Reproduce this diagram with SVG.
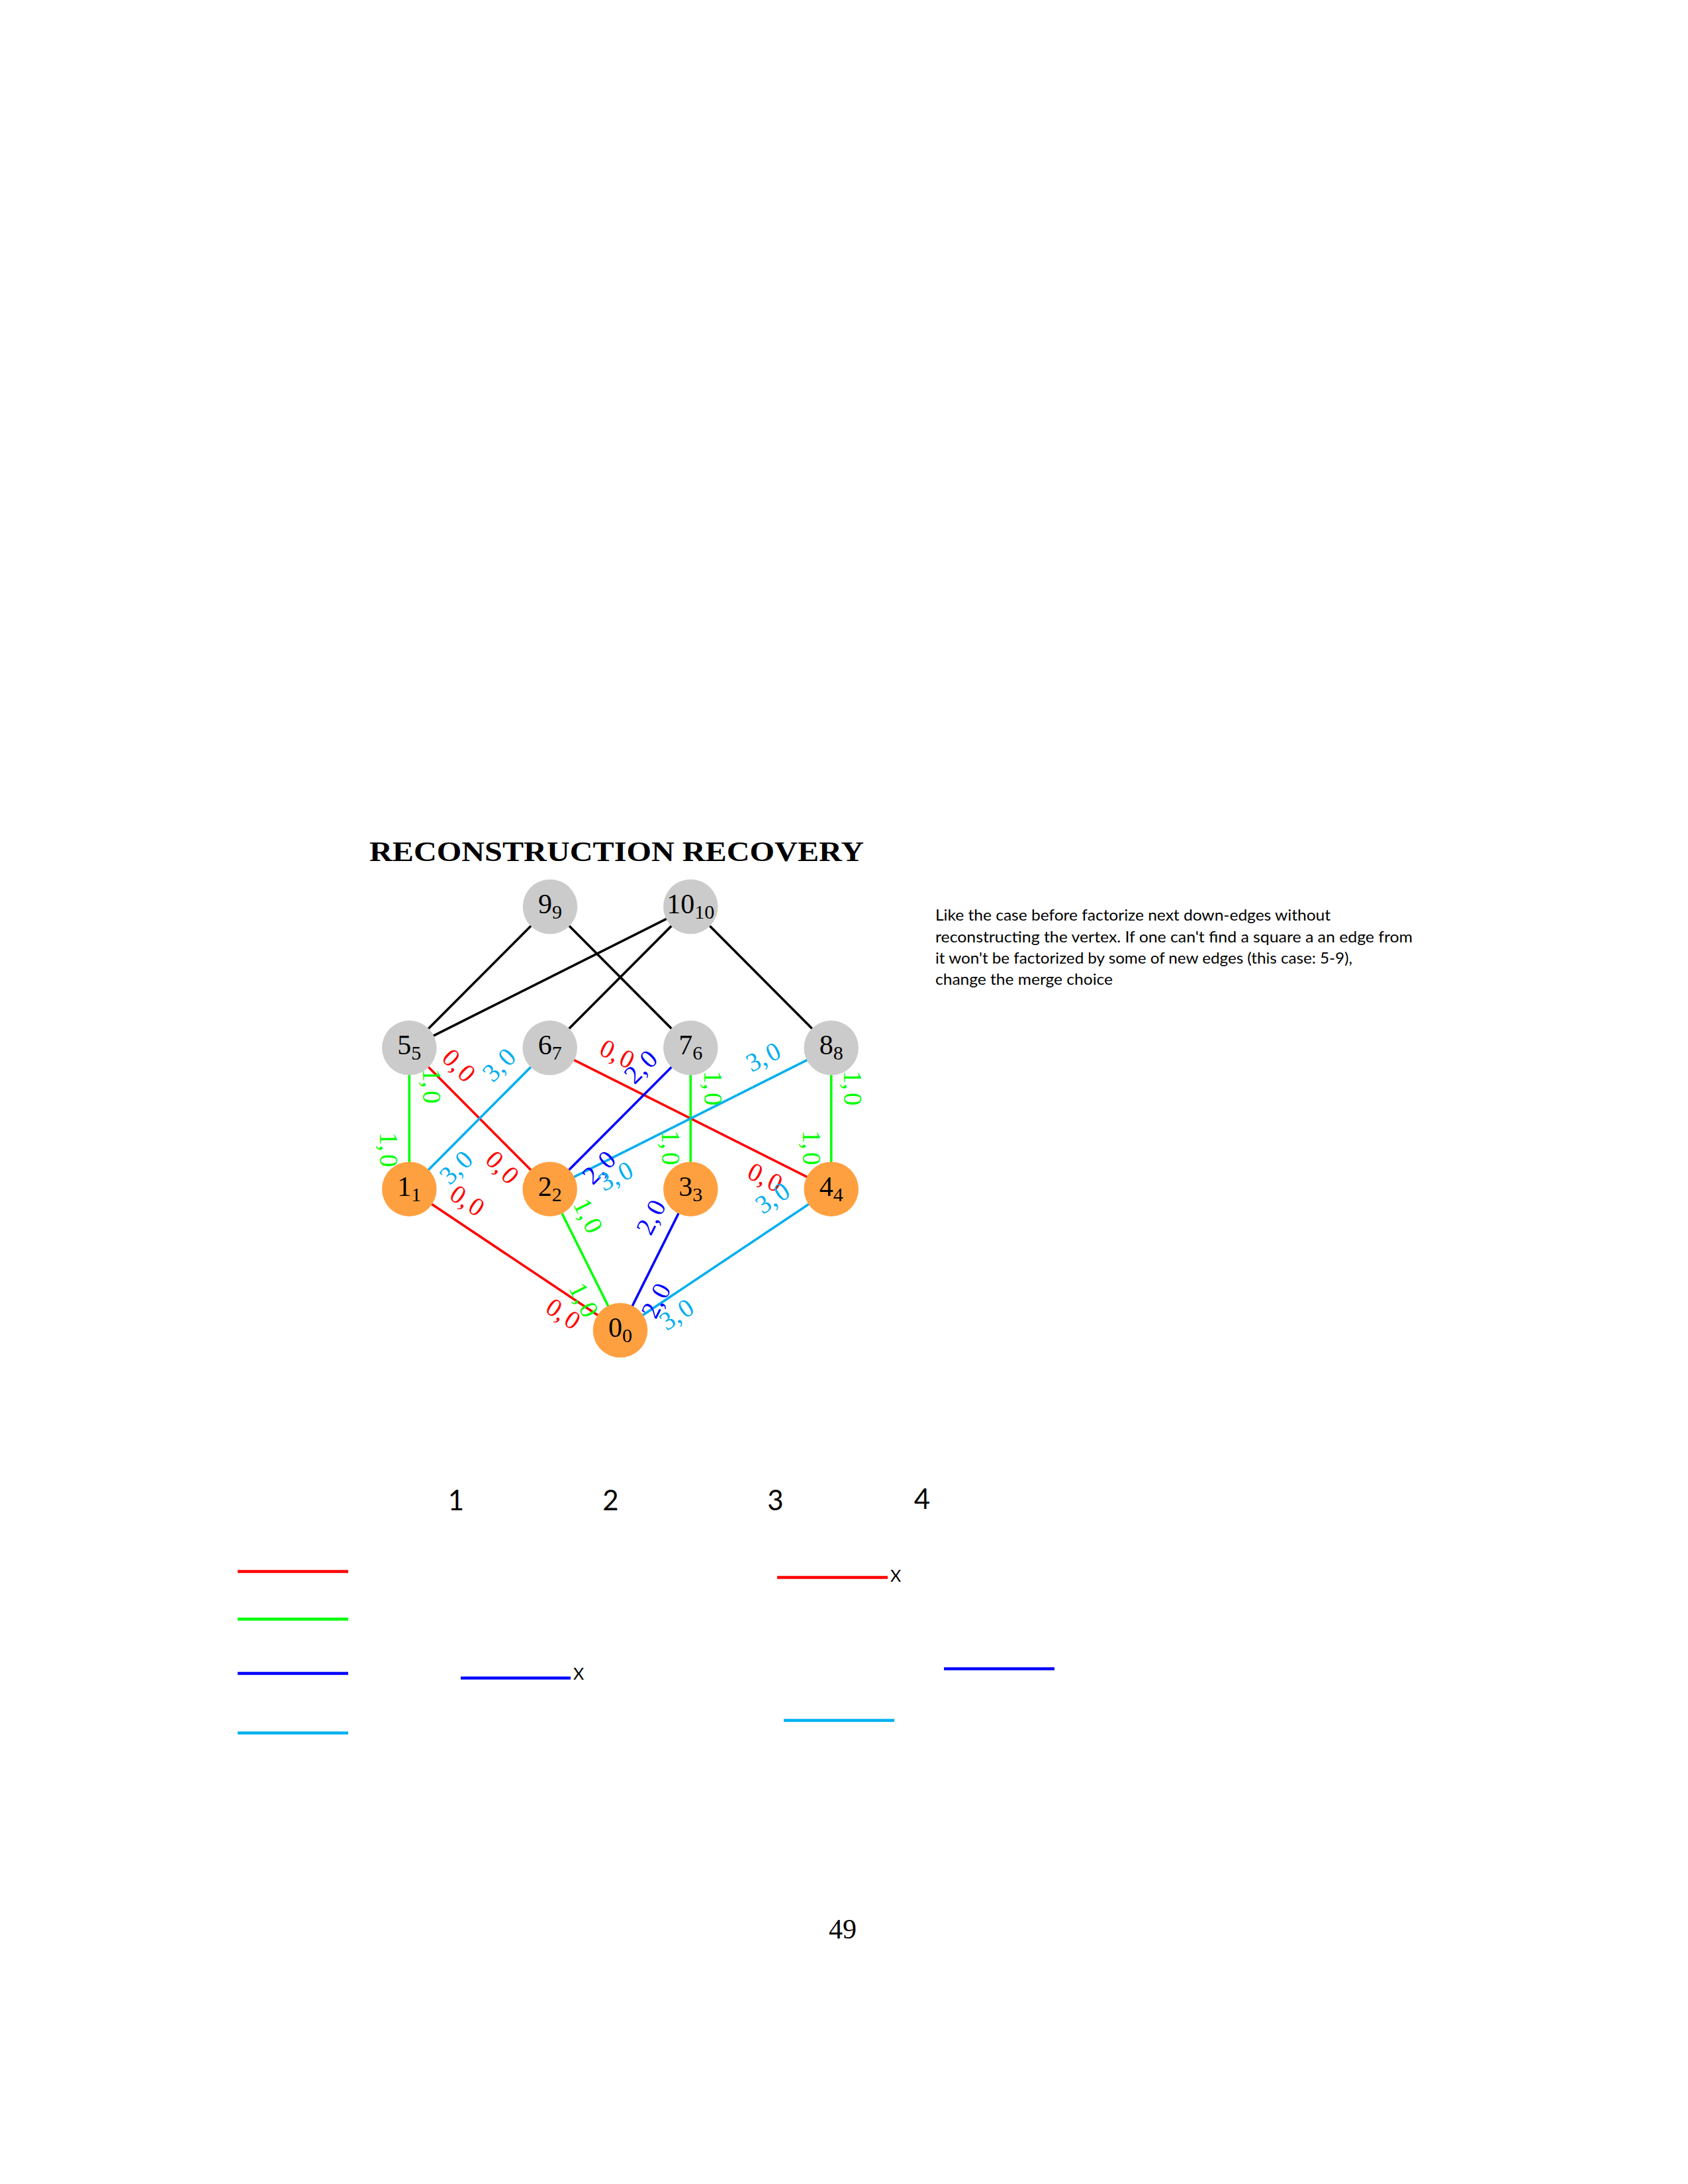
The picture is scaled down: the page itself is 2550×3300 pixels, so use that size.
<svg xmlns="http://www.w3.org/2000/svg" width="2550" height="3300" viewBox="0 0 2550 3300">
<style>
.bg{fill:#ffffff}
.title{font-family:"Liberation Serif",serif;font-weight:bold;font-size:42px;fill:#000}
.nl{font-family:"Liberation Serif",serif;font-size:42px;fill:#000}
.sub{font-size:30px}
.gray{fill:#cbcbcb}
.orange{fill:#ffa040}
.e{stroke-width:3.6;fill:none}
.k{stroke:#000}
.r{stroke:#ff0000}
.g{stroke:#00ff00}
.b{stroke:#0000ff}
.c{stroke:#00aeef}
.el{font-family:"Liberation Serif",serif;font-size:39px;text-anchor:middle}
.tr{fill:#ff0000}
.tg{fill:#00ff00}
.tb{fill:#0000ff}
.tc{fill:#00aeef}
.para{font-family:Lato,"Liberation Sans",sans-serif;font-size:23px;fill:#000}
.num{font-family:Lato,"Liberation Sans",sans-serif;font-size:42px;fill:#000;text-anchor:middle}
.xm{font-family:Lato,"Liberation Sans",sans-serif;font-size:25px;fill:#000}
.lg{stroke-width:4.7}
</style>
<rect class="bg" x="0" y="0" width="2550" height="3300"/>
<text class="title" x="558" y="1301" textLength="747" lengthAdjust="spacingAndGlyphs">RECONSTRUCTION RECOVERY</text>

<g id="connectors">
  <line class="e k" x1="831" y1="1370" x2="618.3" y2="1583.3"/>
  <line class="e k" x1="831" y1="1370" x2="1043.3" y2="1583.3"/>
  <line class="e k" x1="1043.3" y1="1370" x2="618.3" y2="1583.3"/>
  <line class="e k" x1="1043.3" y1="1370" x2="830.7" y2="1583.3"/>
  <line class="e k" x1="1043.3" y1="1370" x2="1255.7" y2="1583.3"/>
  <line class="e g" x1="618.3" y1="1583.3" x2="618.3" y2="1796.7"/>
  <line class="e r" x1="618.3" y1="1583.3" x2="830.7" y2="1796.7"/>
  <line class="e c" x1="830.7" y1="1583.3" x2="618.3" y2="1796.7"/>
  <line class="e r" x1="830.7" y1="1583.3" x2="1255.7" y2="1796.7"/>
  <line class="e b" x1="1043.3" y1="1583.3" x2="830.7" y2="1796.7"/>
  <line class="e g" x1="1043.3" y1="1583.3" x2="1043.3" y2="1796.7"/>
  <line class="e c" x1="1255.7" y1="1583.3" x2="830.7" y2="1796.7"/>
  <line class="e g" x1="1255.7" y1="1583.3" x2="1255.7" y2="1796.7"/>
  <line class="e r" x1="618.3" y1="1796.7" x2="937" y2="2010"/>
  <line class="e g" x1="830.7" y1="1796.7" x2="937" y2="2010"/>
  <line class="e b" x1="1043.3" y1="1796.7" x2="937" y2="2010"/>
  <line class="e c" x1="1255.7" y1="1796.7" x2="937" y2="2010"/>
</g>

<g id="node9"><circle class="gray" cx="831" cy="1370" r="41.3"/><text class="nl" x="831" y="1380" text-anchor="middle">9<tspan class="sub" dy="8">9</tspan></text></g>
<g id="node10"><circle class="gray" cx="1043.3" cy="1370" r="41.3"/><text class="nl" x="1043.3" y="1380" text-anchor="middle">10<tspan class="sub" dy="8">10</tspan></text></g>
<g id="node5"><circle class="gray" cx="618.3" cy="1583.3" r="41.3"/><text class="nl" x="618.3" y="1593.3" text-anchor="middle">5<tspan class="sub" dy="8">5</tspan></text></g>
<g id="node6"><circle class="gray" cx="830.7" cy="1583.3" r="41.3"/><text class="nl" x="830.7" y="1593.3" text-anchor="middle">6<tspan class="sub" dy="8">7</tspan></text></g>
<g id="node7"><circle class="gray" cx="1043.3" cy="1583.3" r="41.3"/><text class="nl" x="1043.3" y="1593.3" text-anchor="middle">7<tspan class="sub" dy="8">6</tspan></text></g>
<g id="node8"><circle class="gray" cx="1255.7" cy="1583.3" r="41.3"/><text class="nl" x="1255.7" y="1593.3" text-anchor="middle">8<tspan class="sub" dy="8">8</tspan></text></g>
<g id="node1"><circle class="orange" cx="618.3" cy="1796.7" r="41.3"/><text class="nl" x="618.3" y="1806.7" text-anchor="middle">1<tspan class="sub" dy="8">1</tspan></text></g>
<g id="node2"><circle class="orange" cx="830.7" cy="1796.7" r="41.3"/><text class="nl" x="830.7" y="1806.7" text-anchor="middle">2<tspan class="sub" dy="8">2</tspan></text></g>
<g id="node3"><circle class="orange" cx="1043.3" cy="1796.7" r="41.3"/><text class="nl" x="1043.3" y="1806.7" text-anchor="middle">3<tspan class="sub" dy="8">3</tspan></text></g>
<g id="node4"><circle class="orange" cx="1255.7" cy="1796.7" r="41.3"/><text class="nl" x="1255.7" y="1806.7" text-anchor="middle">4<tspan class="sub" dy="8">4</tspan></text></g>
<g id="node0"><circle class="orange" cx="937" cy="2010" r="41.3"/><text class="nl" x="937" y="2020" text-anchor="middle">0<tspan class="sub" dy="8">0</tspan></text></g>

<g id="edge-labels">
  <text class="el tg" transform="translate(652,1641) rotate(90)" y="13">1,<tspan dx="4">0</tspan></text>
  <text class="el tg" transform="translate(586.7,1737) rotate(90)" y="13">1,<tspan dx="4">0</tspan></text>
  <text class="el tr" transform="translate(693.3,1610) rotate(45)" y="13">0,<tspan dx="4">0</tspan></text>
  <text class="el tr" transform="translate(759,1764) rotate(45)" y="13">0,<tspan dx="4">0</tspan></text>
  <text class="el tc" transform="translate(754,1609) rotate(-45)" y="13">3,<tspan dx="4">0</tspan></text>
  <text class="el tc" transform="translate(689,1764) rotate(-45)" y="13">3,<tspan dx="4">0</tspan></text>
  <text class="el tr" transform="translate(932.5,1592.5) rotate(26.66)" y="13">0,<tspan dx="4">0</tspan></text>
  <text class="el tr" transform="translate(1156,1779) rotate(26.66)" y="13">0,<tspan dx="4">0</tspan></text>
  <text class="el tb" transform="translate(968,1612) rotate(-45)" y="13">2,<tspan dx="4">0</tspan></text>
  <text class="el tb" transform="translate(905,1764) rotate(-45)" y="13">2,<tspan dx="4">0</tspan></text>
  <text class="el tg" transform="translate(1077,1644) rotate(90)" y="13">1,<tspan dx="4">0</tspan></text>
  <text class="el tg" transform="translate(1012.5,1734) rotate(90)" y="13">1,<tspan dx="4">0</tspan></text>
  <text class="el tc" transform="translate(1153,1597) rotate(-26.66)" y="13">3,<tspan dx="4">0</tspan></text>
  <text class="el tc" transform="translate(930,1777) rotate(-26.66)" y="13">3,<tspan dx="4">0</tspan></text>
  <text class="el tg" transform="translate(1288,1644) rotate(90)" y="13">1,<tspan dx="4">0</tspan></text>
  <text class="el tg" transform="translate(1226,1734) rotate(90)" y="13">1,<tspan dx="4">0</tspan></text>
  <text class="el tr" transform="translate(706,1814) rotate(33.8)" y="13">0,<tspan dx="4">0</tspan></text>
  <text class="el tr" transform="translate(851,1985) rotate(33.8)" y="13">0,<tspan dx="4">0</tspan></text>
  <text class="el tg" transform="translate(888.5,1837) rotate(63.5)" y="13">1,<tspan dx="4">0</tspan></text>
  <text class="el tg" transform="translate(882,1964) rotate(63.5)" y="13">1,<tspan dx="4">0</tspan></text>
  <text class="el tb" transform="translate(983.5,1839) rotate(-63.5)" y="13">2,<tspan dx="4">0</tspan></text>
  <text class="el tb" transform="translate(991,1965) rotate(-63.5)" y="13">2,<tspan dx="4">0</tspan></text>
  <text class="el tc" transform="translate(1167,1810) rotate(-33.8)" y="13">3,<tspan dx="4">0</tspan></text>
  <text class="el tc" transform="translate(1022,1986) rotate(-33.8)" y="13">3,<tspan dx="4">0</tspan></text>
</g>

<g id="note">
  <text class="para" x="1413" y="1391" textLength="597" lengthAdjust="spacingAndGlyphs">Like the case before factorize next down-edges without</text>
  <text class="para" x="1413" y="1424" textLength="721" lengthAdjust="spacingAndGlyphs">reconstructing the vertex. If one can't find a square a an edge from</text>
  <text class="para" x="1413" y="1456" textLength="630" lengthAdjust="spacingAndGlyphs">it won't be factorized by some of new edges (this case: 5-9),</text>
  <text class="para" x="1413" y="1488" textLength="268" lengthAdjust="spacingAndGlyphs">change the merge choice</text>
</g>

<g id="legend">
  <text class="num" x="689" y="2282">1</text>
  <text class="num" x="922.5" y="2282">2</text>
  <text class="num" x="1171.5" y="2282">3</text>
  <text class="num" x="1393" y="2280">4</text>
  <line class="lg" stroke="#ff0000" x1="359" y1="2374.5" x2="526" y2="2374.5"/>
  <line class="lg" stroke="#00ff00" x1="359" y1="2446.5" x2="526" y2="2446.5"/>
  <line class="lg" stroke="#0000ff" x1="359" y1="2528.5" x2="526" y2="2528.5"/>
  <line class="lg" stroke="#00b0f0" x1="359" y1="2618.5" x2="526" y2="2618.5"/>
  <line class="lg" stroke="#0000ff" x1="696" y1="2535.5" x2="862" y2="2535.5"/>
  <text class="xm" x="866" y="2538">X</text>
  <line class="lg" stroke="#ff0000" x1="1174" y1="2383.5" x2="1341" y2="2383.5"/>
  <text class="xm" x="1345" y="2390">X</text>
  <line class="lg" stroke="#00b0f0" x1="1184" y1="2599.5" x2="1351" y2="2599.5"/>
  <line class="lg" stroke="#0000ff" x1="1426" y1="2521.5" x2="1593" y2="2521.5"/>
</g>

<text class="nl" x="1273" y="2929" text-anchor="middle" font-size="41">49</text>
</svg>
